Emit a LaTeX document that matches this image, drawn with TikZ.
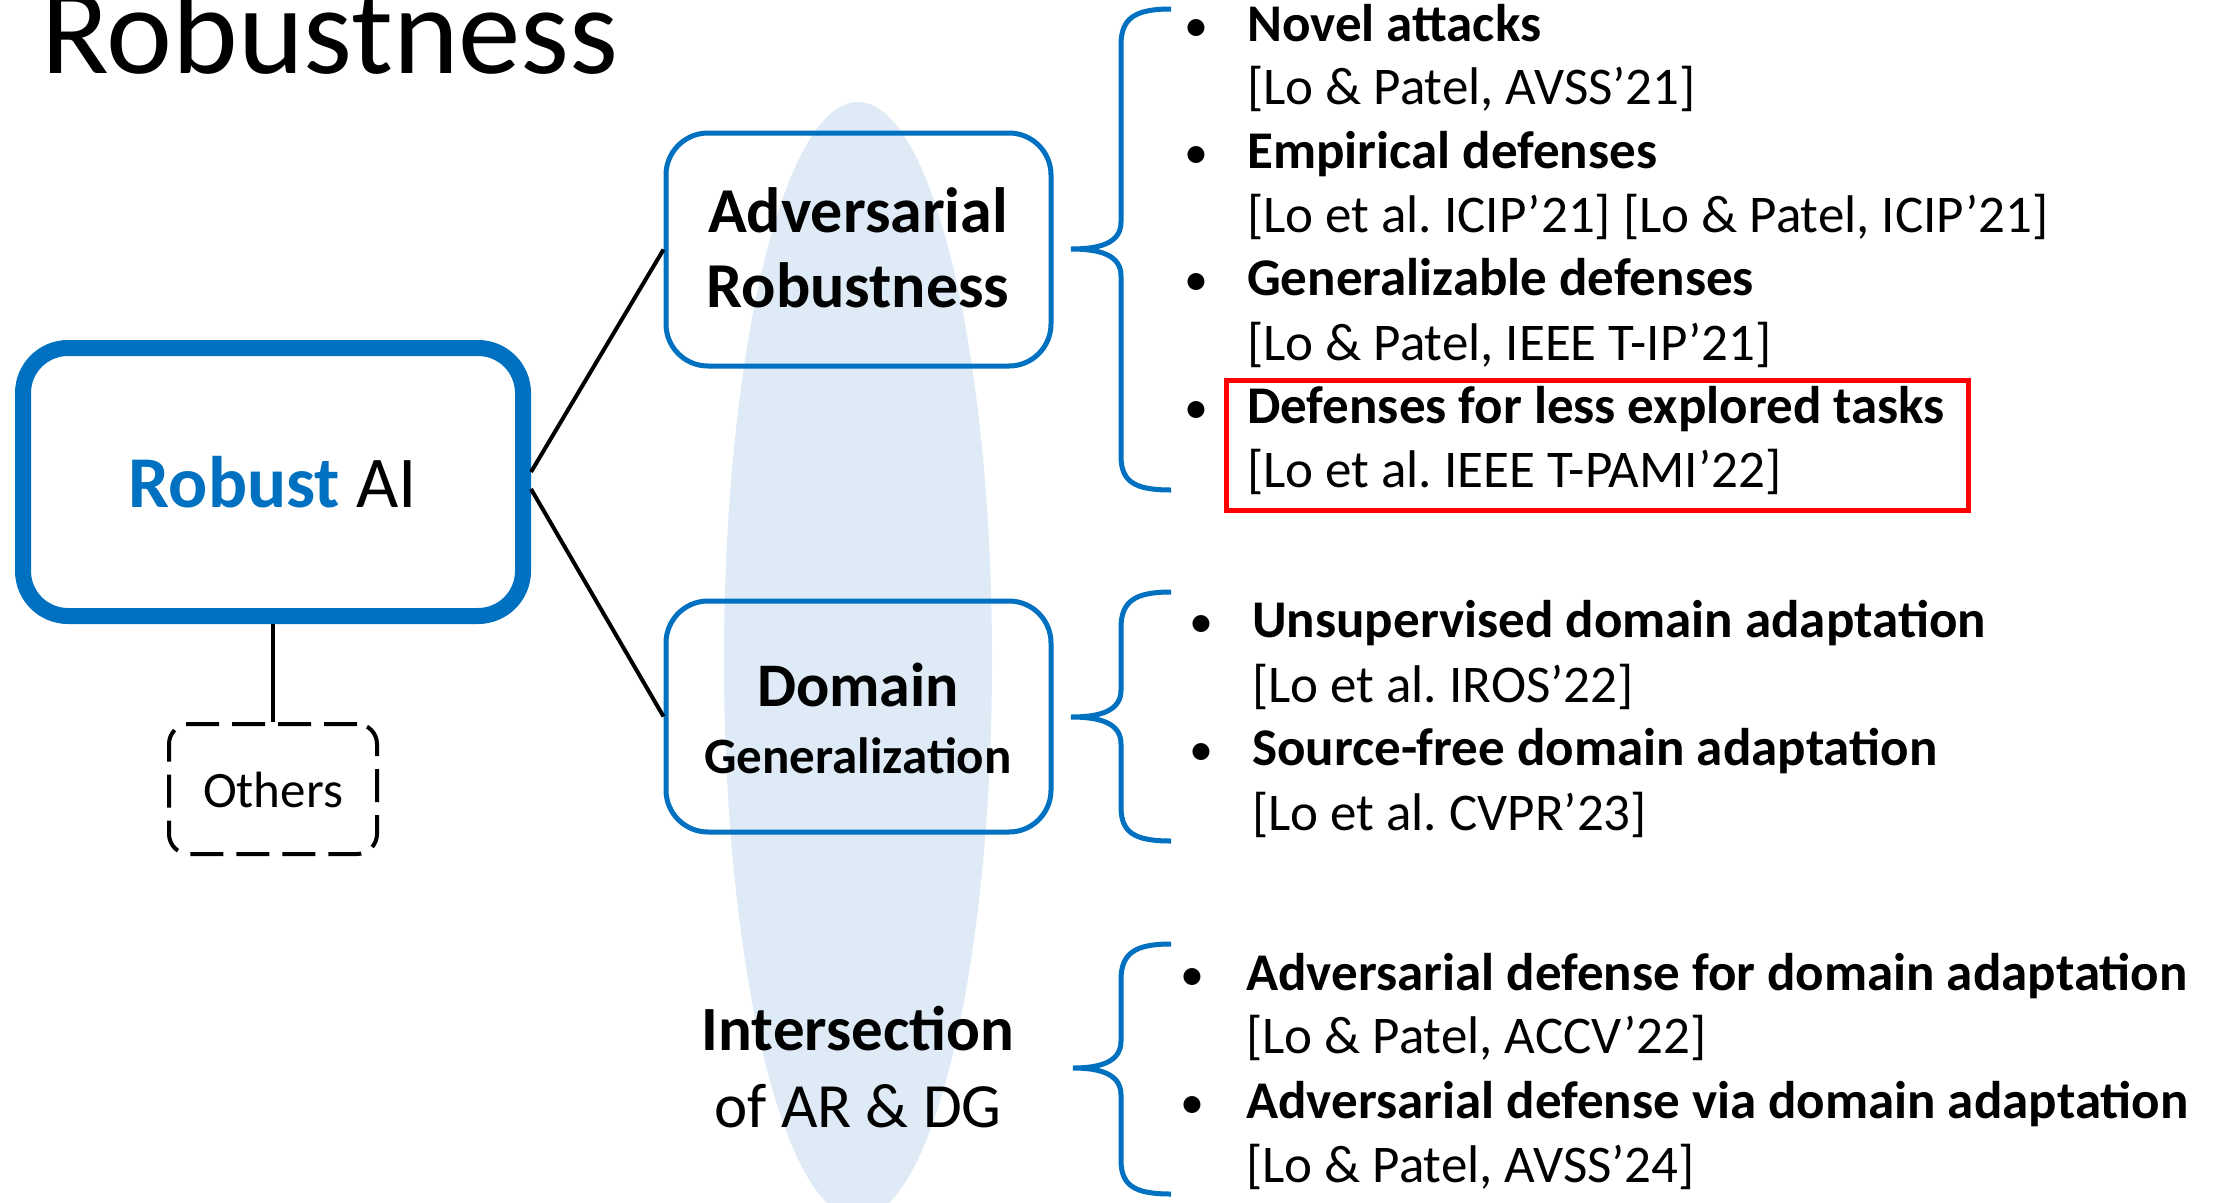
\documentclass[tikz,border=0pt]{standalone}
\usepackage{fontspec}
\setmainfont{Carlito}
\frenchspacing
\definecolor{msblue}{HTML}{0070C0}
\definecolor{ellblue}{HTML}{DEEBF7}
\tikzset{
  conn/.style={line width=4pt, black},
  bluebox/.style={draw=msblue, line width=5pt, rounded corners=42pt, inner sep=0pt},
  bracestyle/.style={draw=msblue, line width=5pt},
  boxtext/.style={anchor=base, inner sep=0pt, font=\fontsize{64}{75}\selectfont\bfseries},
  itemtext/.style={anchor=base west, inner sep=0pt, font=\fontsize{53}{64}\selectfont\bfseries},
  reftext/.style={anchor=base west, inner sep=0pt, font=\fontsize{53}{64}\selectfont},
  bul/.style={anchor=base, inner sep=0pt, font=\fontsize{48}{64}\selectfont},
}
\begin{document}
\begin{tikzpicture}[x=1pt,y=-1pt]
\useasboundingbox (0,0) rectangle (2221,1202);
\clip (0,0) rectangle (2221,1202);
\fill[white] (0,0) rectangle (2221,1202);

% background ellipse
\fill[ellblue] (858,660) ellipse [x radius=134, y radius=558];

% title
\node[anchor=base west, inner sep=0pt, font=\fontsize{125}{150}\selectfont] (title) at (41,73) {Robustness};

% Robust AI box
\node[draw=msblue, line width=16pt, rounded corners=45pt, minimum width=500pt, minimum height=268pt,
      inner sep=0pt, text height=51pt, text depth=0pt, font=\fontsize{73}{86}\selectfont] (ra) at (273,482)
      {\textcolor{msblue}{\bfseries Robust} AI};

% Others box
\node[draw=black, line width=4pt, dash pattern=on 33pt off 13pt, rounded corners=20pt,
      minimum width=208pt, minimum height=130pt, inner sep=0pt, text height=37pt, text depth=0pt,
      font=\fontsize{51}{61}\selectfont] (oth) at (273,789) {Others};

% Adversarial Robustness box
\node[bluebox, minimum width=385pt, minimum height=233pt] (adv) at (858.5,249.5) {};
\node[boxtext] (advt1) at (858,232) {Adversarial};
\node[boxtext] (advt2) at (858,307) {Robustness};

% Domain Generalization box
\node[bluebox, minimum width=385pt, minimum height=231pt] (dg) at (858.5,716.5) {};
\node[boxtext, font=\fontsize{62}{72}\selectfont\bfseries] (dgt1) at (858,706) {Domain};
\node[boxtext, font=\fontsize{51}{61}\selectfont\bfseries] (dgt2) at (858,773) {Generalization};

% Intersection label
\node[boxtext, font=\fontsize{63}{75}\selectfont\bfseries] (int1) at (858,1050) {Intersection};
\node[boxtext, font=\fontsize{63}{75}\selectfont] (int2) at (858,1127) {of AR \& DG};

% connectors
\draw[conn] ([yshift=10pt]ra.east) -- (adv.west);
\draw[conn] ([yshift=-7pt]ra.east) -- (dg.west);
\draw[conn] (ra.south) -- (oth.north);

% braces
\coordinate (b1) at (1071,249);
\coordinate (b2) at (1071,717);
\coordinate (b3) at (1073,1068);
\draw[bracestyle] (1171,9) .. controls (1135,9) and (1121,18) .. (1121,45)
  -- (1121,222) .. controls (1121,243) and (1100,249) .. (b1)
  .. controls (1100,249) and (1121,255) .. (1121,276)
  -- (1121,456) .. controls (1121,482) and (1135,490) .. (1171,490);
\draw[bracestyle] (1171,592) .. controls (1135,592) and (1121,601) .. (1121,628)
  -- (1121,690) .. controls (1121,711) and (1100,717) .. (b2)
  .. controls (1100,717) and (1121,723) .. (1121,744)
  -- (1121,807) .. controls (1121,833) and (1135,841) .. (1171,841);
\draw[bracestyle] (1171,944) .. controls (1135,944) and (1121,953) .. (1121,980)
  -- (1121,1041) .. controls (1121,1062) and (1100,1068) .. (b3)
  .. controls (1100,1068) and (1121,1074) .. (1121,1095)
  -- (1121,1160) .. controls (1121,1186) and (1135,1194) .. (1171,1194);

% AR list
\node[bul] (ab1) at (1196,41) {•};
\node[itemtext] (a1) at (1247,41) {Novel attacks};
\node[reftext] (a1r) at (1247,104) {[Lo \& Patel, AVSS’21]};
\node[bul] (ab2) at (1196,168) {•};
\node[itemtext] (a2) at (1247,168) {Empirical defenses};
\node[reftext] (a2r) at (1247,232) {[Lo et al. ICIP’21] [Lo \& Patel, ICIP’21]};
\node[bul] (ab3) at (1196,295) {•};
\node[itemtext] (a3) at (1247,295) {Generalizable defenses};
\node[reftext] (a3r) at (1247,360) {[Lo \& Patel, IEEE T-IP’21]};
\node[bul] (ab4) at (1196,423) {•};
\node[itemtext] (a4) at (1247,423) {Defenses for less explored tasks};
\node[reftext] (a4r) at (1247,487) {[Lo et al. IEEE T-PAMI’22]};
\node[draw=red, line width=5pt, minimum width=742pt, minimum height=130pt, inner sep=0pt] (hl) at (1597,445) {};

% DG list
\node[bul] (db1) at (1201,637) {•};
\node[itemtext] (d1) at (1252,637) {Unsupervised domain adaptation};
\node[reftext] (d1r) at (1252,702) {[Lo et al. IROS’22]};
\node[bul] (db2) at (1201,765) {•};
\node[itemtext] (d2) at (1252,765) {Source-free domain adaptation};
\node[reftext] (d2r) at (1252,830) {[Lo et al. CVPR’23]};

% Intersection list
\node[bul] (ib1) at (1192,990) {•};
\node[itemtext] (i1) at (1246,990) {Adversarial defense for domain adaptation};
\node[reftext] (i1r) at (1246,1053) {[Lo \& Patel, ACCV’22]};
\node[bul] (ib2) at (1192,1118) {•};
\node[itemtext] (i2) at (1246,1118) {Adversarial defense via domain adaptation};
\node[reftext] (i2r) at (1246,1182) {[Lo \& Patel, AVSS’24]};
\end{tikzpicture}
\end{document}
